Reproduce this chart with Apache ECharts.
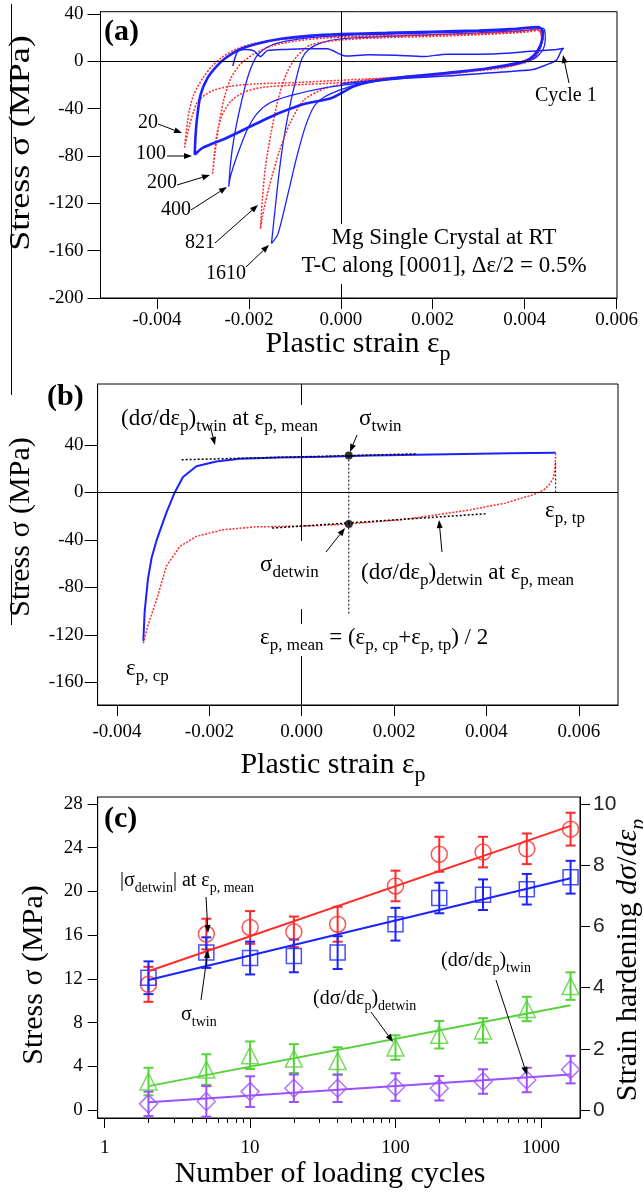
<!DOCTYPE html>
<html><head><meta charset="utf-8">
<script src="https://cdn.jsdelivr.net/npm/echarts@6.0.0/dist/echarts.min.js"></script>
<style>html,body{margin:0;padding:0;background:#fff;}#chart{width:643px;height:1198px;}</style>
</head><body><div id="chart"></div>
<script>
// ================= DATA =================
// Panel (a): stress-plastic strain loops, points [plastic strain, stress (MPa)]
const loopCycle1 = [[-0.00235,-4],[-0.00225,8],[-0.0021,10],[-0.0019,9],[-0.00175,4],[-0.0016,9],[-0.0012,10],[-0.0008,10.5],[-0.0003,10.5],[0.0001,4.5],[0.0006,5.5],[0.0012,5],[0.0018,4],[0.0023,6],[0.003,6],[0.0037,7],[0.0043,9],[0.0047,10],[0.00485,11],[0.0048,9],[0.00469,1],[0.00447,-3],[0.00418,-7],[0.0035,-9],[0.0025,-12],[0.0015,-14],[0.0005,-17],[0,-19]];
const loopCycle20 = [[-0.0034,-73],[-0.00336,-58],[-0.0033,-42],[-0.0032,-28],[-0.003,-14],[-0.0028,-4],[-0.0026,3],[-0.0023,10],[-0.0019,15],[-0.0014,18],[-0.0008,20],[0,21],[0.001,21.5],[0.002,22],[0.003,23],[0.0038,24.5],[0.0043,26.5],[0.00437,20],[0.0043,10],[0.0041,2],[0.0037,-3],[0.003,-7],[0.002,-11],[0.001,-14],[0,-16],[-0.001,-18],[-0.0018,-19],[-0.0024,-21],[-0.0028,-25],[-0.0031,-33],[-0.0032,-42],[-0.0033,-55],[-0.0034,-73]];
const loopCycle100 = [[-0.00318,-79],[-0.00316,-62],[-0.00312,-45],[-0.00305,-28],[-0.0029,-14],[-0.0027,-4],[-0.0025,3],[-0.0022,10],[-0.0018,15],[-0.0013,19],[-0.0007,21.5],[0,23],[0.001,24],[0.002,25],[0.003,26],[0.0038,27.5],[0.0043,29],[0.0044,25],[0.00435,14],[0.0042,5],[0.004,0],[0.0035,-4],[0.003,-7],[0.002,-11],[0.001,-15],[0.0003,-21],[-0.0002,-31],[-0.0008,-36],[-0.0013,-43],[-0.0017,-50],[-0.0025,-65],[-0.003,-73],[-0.00318,-79]];
const loopCycle200 = [[-0.00279,-95],[-0.00274,-78],[-0.00266,-55],[-0.00255,-33],[-0.0024,-15],[-0.0022,-3],[-0.0019,6],[-0.0015,13],[-0.001,17],[-0.0004,19.5],[0.0005,21],[0.0015,22],[0.0025,23],[0.0035,24.5],[0.0043,27],[0.00437,18],[0.0043,8],[0.0041,1],[0.0036,-5],[0.003,-8],[0.002,-12],[0.001,-15],[0,-18],[-0.001,-20],[-0.0017,-22],[-0.0021,-26],[-0.0024,-34],[-0.0026,-47],[-0.0027,-62],[-0.00275,-78],[-0.00279,-95]];
const loopCycle400 = [[-0.00244,-106],[-0.0024,-86],[-0.00233,-66],[-0.00222,-44],[-0.00208,-21],[-0.00197,-7],[-0.00182,5],[-0.0016,12],[-0.0012,17],[-0.0005,20.5],[0.0005,22.5],[0.0015,23.5],[0.0025,24.5],[0.0035,26],[0.0043,28.5],[0.0044,22],[0.00435,12],[0.0042,3],[0.0039,-2],[0.0033,-6],[0.0025,-10],[0.0015,-14],[0.0005,-18],[-0.0003,-22],[-0.0011,-29],[-0.00154,-35],[-0.00182,-44],[-0.00204,-58],[-0.00226,-80],[-0.0024,-97],[-0.00244,-106]];
const loopCycle821 = [[-0.00175,-141.5],[-0.00171,-117.5],[-0.00164,-89],[-0.00152,-61],[-0.00137,-33],[-0.00118,-10],[-0.00096,4],[-0.00066,13.8],[0,18],[0.001,20],[0.002,21],[0.003,22.5],[0.004,24.5],[0.0043,26],[0.0044,20],[0.0043,8],[0.0041,0],[0.0035,-5],[0.0025,-9],[0.0015,-13],[0.0005,-16],[-0.00035,-23],[-0.00081,-33],[-0.00111,-52.5],[-0.00133,-75],[-0.00156,-106],[-0.00171,-131.5],[-0.00175,-141.5]];
const loopCycle1610 = [[-0.00151,-154],[-0.00145,-132],[-0.00137,-103],[-0.00126,-70],[-0.00111,-38],[-0.00096,-13],[-0.00085,2],[-0.0007,10],[-0.0004,16],[0,19],[0.001,21],[0.002,22.5],[0.003,24],[0.004,26],[0.0044,28],[0.00445,20],[0.0044,10],[0.0042,2],[0.0037,-3],[0.003,-7],[0.002,-11],[0.001,-15],[0.0004,-19],[0,-24],[-0.00035,-30],[-0.00058,-38],[-0.00077,-55],[-0.00096,-81],[-0.00115,-112],[-0.00137,-146],[-0.00151,-154]];

// Panel (b): one loop, tension (twin) and compression (detwin) branches
const branchTwin = [[-0.00343,-125],[-0.0034,-100],[-0.00333,-73],[-0.00325,-55],[-0.00314,-40],[-0.00293,-17],[-0.00275,0],[-0.00257,13],[-0.00228,22],[-0.00185,26],[-0.00134,28.4],[-0.0005,29.5],[0.0005,30],[0.0015,31],[0.0025,31.7],[0.0035,32.3],[0.0045,33],[0.0055,33.5]];
const branchDetwin = [[0.0055,33],[0.00549,22],[0.00545,12],[0.00535,6],[0.00524,2],[0.00501,-2],[0.0047,-5.5],[0.00441,-9],[0.004,-12],[0.00366,-14.6],[0.0029,-19],[0.00215,-23],[0.00102,-26.5],[0.0003,-28],[-0.0003,-28.6],[-0.001,-29],[-0.0017,-31.4],[-0.00228,-37],[-0.00264,-45.5],[-0.00293,-62],[-0.00314,-90],[-0.00333,-112],[-0.00343,-127]];
const tangentTwin = [[-0.0026,27.5],[0.0025,32.5]];
const tangentDetwin = [[-0.00064,-30],[0.00398,-18]];
const epsMean = 0.00102, sigmaTwin = 31, sigmaDetwin = -26.5, epsTp = 0.0055;
const meanGuideBottom = -103;

// Panel (c): vs number of cycles
const cycles = [2,5,10,20,40,100,200,400,800,1600];
const sigmaDetwinAbs = [11.5,16.1,16.7,16.3,17.0,20.5,23.4,23.6,23.9,25.7];
const sigmaDetwinErr = [1.6,1.4,1.5,1.4,1.6,1.4,1.6,1.4,1.4,1.5];
const sigmaTwinVals = [12.1,14.4,13.9,14.1,14.4,17.0,19.4,19.7,20.2,21.3];
const sigmaTwinErr = [1.5,1.4,1.5,1.5,1.5,1.5,1.4,1.4,1.4,1.5];
const hardDetwin = [0.93,1.32,1.79,1.68,1.6,2.04,2.46,2.6,3.3,4.05];
const hardDetwinErr = [0.45,0.5,0.45,0.47,0.45,0.4,0.45,0.4,0.4,0.45];
const hardTwin = [0.2,0.28,0.6,0.71,0.71,0.75,0.71,0.93,0.98,1.32];
const hardTwinErr = [0.4,0.5,0.5,0.45,0.45,0.45,0.4,0.4,0.4,0.45];
const fitCycles = [2,1600];
const fitSigmaDetwin = [12.7,26.0];
const fitSigmaTwin = [11.9,21.2];
const fitHardDetwin = [0.78,3.42];
const fitHardTwin = [0.25,1.16];

// tick labels
const ticksStrain = [-0.004,-0.002,0,0.002,0.004,0.006];
const ticksStressA = [-200,-160,-120,-80,-40,0,40];
const ticksStressB = [-160,-120,-80,-40,0,40];
const ticksStressC = [0,4,8,12,16,20,24,28];
const ticksHard = [0,2,4,6,8,10];
const ticksCycles = [1,10,100,1000];
const minorCycles = [2,3,4,5,6,7,8,9,20,30,40,50,60,70,80,90,200,300,400,500,600,700,800,900];

// ================= STYLE HELPERS =================
const SERIF = 'Liberation Serif';
const RED = '#ff2a2a', BLUE = '#1c22ff', GREEN = '#55d23a', PURPLE = '#9b50ff';
function rt(s){
  let out='', re=/_\{([^}]*)\}/g, last=0, m;
  while((m=re.exec(s))){ if(m.index>last) out+='{n|'+s.slice(last,m.index)+'}'; out+='{s|'+m[1]+'}'; last=re.lastIndex; }
  if(last<s.length) out+='{n|'+s.slice(last)+'}';
  return out;
}
function rich(F){
  return {
    n:{fontSize:F,fontFamily:SERIF,verticalAlign:'top',lineHeight:Math.round(F*1.2)},
    s:{fontSize:Math.round(F*0.72),fontFamily:SERIF,verticalAlign:'bottom',lineHeight:Math.round(F*0.72)},
    b:{fontSize:F,fontFamily:SERIF,fontWeight:'bold',verticalAlign:'top',lineHeight:Math.round(F*1.2)},
    i:{fontSize:F,fontFamily:SERIF,fontStyle:'italic',verticalAlign:'top',lineHeight:Math.round(F*1.2)},
    si:{fontSize:Math.round(F*0.72),fontFamily:SERIF,fontStyle:'italic',verticalAlign:'bottom',lineHeight:Math.round(F*0.72)}
  };
}
function txt(x,y,s,F,opt){
  opt=opt||{};
  return {type:'text', x:x, y:y, z:100, rotation:opt.rot||0, scaleX:opt.sx||1,
    style:{text:opt.raw?s:rt(s), rich:rich(F), fontSize:F, fontFamily:SERIF, fill:'#000',
      align:opt.align||'left', verticalAlign:'middle',
      backgroundColor:opt.bg?'#fff':null, padding:opt.pad||0}};
}
function arrow(x1,y1,x2,y2){
  const a=Math.atan2(y2-y1,x2-x1), L=8, W=3;
  const bx=x2-L*Math.cos(a), by=y2-L*Math.sin(a);
  const px=-Math.sin(a)*W, py=Math.cos(a)*W;
  return [
    {type:'line', z:101, shape:{x1:x1,y1:y1,x2:bx,y2:by}, style:{stroke:'#000',lineWidth:1}},
    {type:'polygon', z:101, shape:{points:[[x2,y2],[bx+px,by+py],[bx-px,by-py]]}, style:{fill:'#000'}}
  ];
}
const fmt3 = v => (Math.abs(v)<1e-12?0:v).toFixed(3);
const axLab = {fontFamily:SERIF, fontSize:19, color:'#000'};

function strainAxis(gi,min,max,margin){
  return {gridIndex:gi, type:'value', min:min, max:max,
    axisLine:{show:true,onZero:false,lineStyle:{color:'#000',width:1}},
    axisTick:{show:true,inside:false,length:11,customValues:ticksStrain,lineStyle:{color:'#000'}},
    axisLabel:Object.assign({customValues:ticksStrain,formatter:fmt3,margin:margin},axLab),
    splitLine:{show:false}};
}
function stressAxis(gi,min,max,ticks,margin){
  return {gridIndex:gi, type:'value', min:min, max:max,
    axisLine:{show:true,onZero:false,lineStyle:{color:'#000',width:1}},
    axisTick:{show:true,inside:false,length:13,customValues:ticks,lineStyle:{color:'#000'}},
    axisLabel:Object.assign({customValues:ticks,margin:margin},axLab),
    splitLine:{show:false}};
}
function loop(data,color,dotted,width){
  return {type:'line', xAxisIndex:0, yAxisIndex:0, data:data, showSymbol:false, symbol:'none', smooth:0.25,
    lineStyle:{color:color,width:width,type:dotted?[2,1.5]:'solid'}, silent:true};
}
function errSeries(vals,errs,color,yi){
  return {type:'custom', xAxisIndex:2, yAxisIndex:yi, silent:true, z:3,
    data: cycles.map((c,i)=>[c, vals[i]-errs[i], vals[i]+errs[i]]),
    renderItem:function(p,api){
      const lo=api.coord([api.value(0),api.value(1)]), hi=api.coord([api.value(0),api.value(2)]);
      const w=5, st={stroke:color,lineWidth:2};
      return {type:'group',children:[
        {type:'line',shape:{x1:lo[0],y1:lo[1],x2:hi[0],y2:hi[1]},style:st},
        {type:'line',shape:{x1:lo[0]-w,y1:lo[1],x2:lo[0]+w,y2:lo[1]},style:st},
        {type:'line',shape:{x1:hi[0]-w,y1:hi[1],x2:hi[0]+w,y2:hi[1]},style:st}]};
    }};
}
function markSeries(vals,color,symbol,size,yi){
  return {type:'scatter', xAxisIndex:2, yAxisIndex:yi, data:cycles.map((c,i)=>[c,vals[i]]), symbol:symbol, symbolSize:size,
    itemStyle:{color:'rgba(0,0,0,0)',borderColor:color,borderWidth:1.5}, silent:true, z:4};
}
function fitSeries(vals,color,yi){
  return {type:'line', xAxisIndex:2, yAxisIndex:yi, data:fitCycles.map((c,i)=>[c,vals[i]]), showSymbol:false, symbol:'none',
    lineStyle:{color:color,width:2}, silent:true, z:5};
}

// ================= OPTION =================
const grids = [
  {left:100.5, top:11.7, width:516.5, height:286.3},
  {left:97.6, top:384, width:520.4, height:321},
  {left:97.7, top:797, width:482.3, height:321}
].map(g=>Object.assign(g,{show:true,borderColor:'#000',borderWidth:1,backgroundColor:'rgba(0,0,0,0)',containLabel:false,outerBoundsMode:'none'}));

const option = {
  animation:false,
  backgroundColor:'#fff',
  grid:grids,
  xAxis:[
    strainAxis(0,-0.00523,0.00601,13),
    strainAxis(1,-0.00442,0.00685,18),
    {gridIndex:2, type:'log', logBase:10, min:0.895, max:1858, position:'bottom',
      axisLine:{show:true,onZero:false,lineStyle:{color:'#000'}},
      axisTick:{show:true,inside:false,length:10,customValues:ticksCycles,lineStyle:{color:'#000'}},
      axisLabel:Object.assign({customValues:ticksCycles,margin:21,formatter:v=>String(Math.round(v))},axLab), splitLine:{show:false}},
    {gridIndex:2, type:'log', logBase:10, min:0.895, max:1858, position:'bottom',
      axisLine:{show:false,onZero:false},
      axisTick:{show:true,inside:false,length:5,customValues:minorCycles,lineStyle:{color:'#000'}},
      axisLabel:{show:false}, splitLine:{show:false}}
  ],
  yAxis:[
    stressAxis(0,-200,41.9,ticksStressA,17),
    stressAxis(1,-179,91.3,ticksStressB,14),
    {gridIndex:2, type:'value', min:-0.734, max:28.64,
      axisLine:{show:true,onZero:false,lineStyle:{color:'#000'}},
      axisTick:{show:true,inside:false,length:10,customValues:ticksStressC,lineStyle:{color:'#000'}},
      axisLabel:Object.assign({customValues:ticksStressC,margin:15},axLab), splitLine:{show:false}},
    {gridIndex:2, type:'value', position:'right', min:-0.262, max:10.229,
      axisLine:{show:true,onZero:false,lineStyle:{color:'#000'}},
      axisTick:{show:true,inside:false,length:10,customValues:ticksHard,lineStyle:{color:'#000'}},
      axisLabel:{customValues:ticksHard,margin:13,fontFamily:'Liberation Sans',fontSize:21,color:'#222'}, splitLine:{show:false}}
  ],
  series:[
    {type:'line', xAxisIndex:0, yAxisIndex:0, data:[], silent:true,
      markLine:{silent:true,symbol:'none',label:{show:false},lineStyle:{color:'#000',width:1,type:'solid'},data:[{yAxis:0},{xAxis:0}]}},
    loop(loopCycle20,RED,true,1.5),
    loop(loopCycle1610,BLUE,false,1.3),
    loop(loopCycle821,RED,true,1.5),
    loop(loopCycle400,BLUE,false,1.3),
    loop(loopCycle200,RED,true,1.5),
    loop(loopCycle1,BLUE,false,1.5),
    loop(loopCycle100,BLUE,false,2.6),
    {type:'line', xAxisIndex:1, yAxisIndex:1, data:[], silent:true,
      markLine:{silent:true,symbol:'none',label:{show:false},lineStyle:{color:'#000',width:1,type:'solid'},data:[{yAxis:0},{xAxis:0}]}},
    {type:'line', xAxisIndex:1, yAxisIndex:1, data:branchTwin, showSymbol:false, symbol:'none', lineStyle:{color:BLUE,width:2}, silent:true},
    {type:'line', xAxisIndex:1, yAxisIndex:1, data:branchDetwin, showSymbol:false, symbol:'none', lineStyle:{color:RED,width:1.5,type:[2,1.5]}, silent:true},
    {type:'line', xAxisIndex:1, yAxisIndex:1, data:tangentTwin, showSymbol:false, symbol:'none', lineStyle:{color:'#000',width:1.5,type:[2,2]}, silent:true, z:6},
    {type:'line', xAxisIndex:1, yAxisIndex:1, data:tangentDetwin, showSymbol:false, symbol:'none', lineStyle:{color:'#000',width:1.5,type:[2,2]}, silent:true, z:6},
    {type:'line', xAxisIndex:1, yAxisIndex:1, data:[[epsMean,sigmaTwin],[epsMean,meanGuideBottom]], showSymbol:false, symbol:'none', lineStyle:{color:'#000',width:1,type:[2,2]}, silent:true},
    {type:'line', xAxisIndex:1, yAxisIndex:1, data:[[epsTp,0],[epsTp,25]], showSymbol:false, symbol:'none', lineStyle:{color:'#000',width:1,type:[2,2]}, silent:true},
    {type:'scatter', xAxisIndex:1, yAxisIndex:1, data:[[epsMean,sigmaTwin],[epsMean,sigmaDetwin]], symbol:'circle', symbolSize:8, itemStyle:{color:'#000'}, silent:true, z:7},
    errSeries(sigmaDetwinAbs,sigmaDetwinErr,RED,2),
    errSeries(sigmaTwinVals,sigmaTwinErr,BLUE,2),
    errSeries(hardDetwin,hardDetwinErr,GREEN,3),
    errSeries(hardTwin,hardTwinErr,PURPLE,3),
    fitSeries(fitSigmaDetwin,RED,2),
    fitSeries(fitSigmaTwin,BLUE,2),
    fitSeries(fitHardDetwin,GREEN,3),
    fitSeries(fitHardTwin,PURPLE,3),
    markSeries(sigmaDetwinAbs,RED,'circle',16,2),
    markSeries(sigmaTwinVals,BLUE,'rect',15,2),
    markSeries(hardDetwin,GREEN,'triangle',17,3),
    markSeries(hardTwin,PURPLE,'diamond',18,3)
  ],
  graphic:{elements:[].concat(
    [{type:'line', z:100, shape:{x1:11.5,y1:4,x2:11.5,y2:395}, style:{stroke:'#000',lineWidth:1}},
     {type:'line', z:100, shape:{x1:11.5,y1:565,x2:11.5,y2:625}, style:{stroke:'#000',lineWidth:1}}],
    // ---- (a)
    [txt(104,35,'{b|(a)}',30,{raw:true}),
     txt(24,143,'Stress σ (MPa)',30,{align:'center',rot:Math.PI/2,sx:1.2}),
     txt(358,347,'Plastic strain ε_{p}',30,{align:'center'}),
     txt(158,125,'20',20,{align:'right'}),
     txt(166,156,'100',20,{align:'right'}),
     txt(177,185,'200',20,{align:'right'}),
     txt(191,212,'400',20,{align:'right'}),
     txt(215,245,'821',20,{align:'right'}),
     txt(246,276,'1610',20,{align:'right'}),
     txt(535,98,'Cycle 1',20),
     txt(444,240,'Mg Single Crystal at RT',23,{align:'center',bg:true,pad:[2,4,2,4]}),
     txt(444,268,'T-C along [0001], Δε/2 = 0.5%',23,{align:'center',bg:true,pad:[2,4,2,4]})],
    arrow(158,124,182,133), arrow(167,156,192,156), arrow(177,185,210,175), arrow(191,210,227,187),
    arrow(215,243,258,205), arrow(246,267,269,245), arrow(569,83,563,55),
    // ---- (b)
    [txt(47,400,'{b|(b)}',30,{raw:true}),
     txt(24,527,'Stress σ (MPa)',30,{align:'center',rot:Math.PI/2}),
     txt(333,768,'Plastic strain ε_{p}',30,{align:'center'}),
     txt(119,421,'(dσ/dε_{p})_{twin} at ε_{p, mean}',23,{bg:true,pad:[2,2,2,2]}),
     txt(359,421,'σ_{twin}',23),
     txt(545,513,'ε_{p, tp}',23),
     txt(257,575,'σ_{detwin}',23,{bg:true,pad:[12,3,28,3]}),
     txt(361,575,'(dσ/dε_{p})_{detwin} at ε_{p, mean}',23),
     txt(258,640,'ε_{p, mean} = (ε_{p, cp}+ε_{p, tp}) / 2',23,{bg:true,pad:[2,2,2,2]}),
     txt(126,671,'ε_{p, cp}',23)],
    arrow(210,425,215,445), arrow(357,435,350,452), arrow(326,552,345,528), arrow(442,552,439,520),
    // ---- (c)
    [txt(104,822,'{b|(c)}',30,{raw:true}),
     txt(37,975,'Stress σ (MPa)',30,{align:'center',rot:Math.PI/2}),
     txt(631,960,'{n|Strain hardening }{i|dσ}{n|/}{i|dε}{si|p}',30,{raw:true,align:'center',rot:Math.PI/2}),
     txt(330,1177,'Number of loading cycles',30,{align:'center'}),
     txt(120,883,'|σ_{detwin}| at ε_{p, mean}',20),
     txt(181,1017,'σ_{twin}',20),
     txt(313,1001,'(dσ/dε_{p})_{detwin}',20),
     txt(441,963,'(dσ/dε_{p})_{twin}',20)],
    arrow(206,897,208,933), arrow(201,1000,208,950), arrow(371,1012,393,1042), arrow(496,980,527,1075)
  )}
};
const chart = echarts.init(document.getElementById('chart'), null, {renderer:'canvas'});
chart.setOption(option);
</script></body></html>
